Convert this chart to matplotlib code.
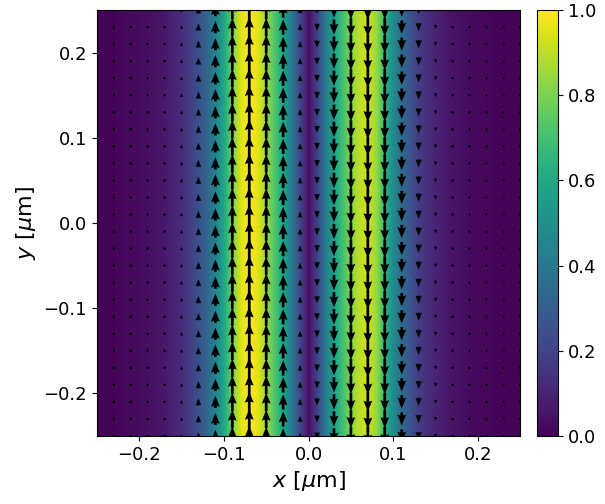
import numpy as np
import matplotlib
matplotlib.use("Agg")
import matplotlib.pyplot as plt

# intensity profile across x (sampled every 0.01 um)
x_prof = np.round(np.linspace(-0.25, 0.25, 51), 3)
intensity = [0.01,0.01,0.01,0.02,0.02,0.03,0.04,0.05,0.07,0.10,   # -0.25..-0.16
             0.13,0.18,0.25,0.33,0.45,0.60,0.80,0.95,1.00,0.95,   # -0.15..-0.06
             0.85,0.72,0.58,0.40,0.20,0.03,0.20,0.42,0.58,0.70,   # -0.05..0.04
             0.82,0.90,0.93,0.84,0.66,0.47,0.35,0.25,0.18,0.13,   # 0.05..0.14
             0.10,0.07,0.05,0.04,0.03,0.02,0.02,0.01,0.01,0.01,0.01]  # 0.15..0.25

# arrow grid and vertical component per column
x_arrow = np.round(np.linspace(-0.25, 0.25, 26), 3)
y_arrow = np.round(np.linspace(-0.25, 0.25, 26), 3)
vy_col = [0.02,0.03,0.04,0.06,0.10,0.18,0.35,0.60,0.90,1.00,0.90,0.75,0.30,
          -0.35,-0.75,-0.90,-0.95,-0.90,-0.65,-0.40,-0.20,-0.10,-0.06,-0.04,-0.03,-0.02]

fig = plt.figure(figsize=(6.05, 5.04), dpi=100)
ax = fig.add_axes([0.16, 0.135, 0.70, 0.845])
cax = fig.add_axes([0.888, 0.135, 0.035, 0.845])

xf = np.linspace(-0.25, 0.25, 501)
prof = np.interp(xf, x_prof, intensity)
img = np.tile(prof, (10, 1))
im = ax.imshow(img, extent=[-0.25, 0.25, -0.25, 0.25], origin='lower',
               aspect='auto', cmap='viridis', vmin=0, vmax=1, interpolation='bilinear')
X, Y = np.meshgrid(x_arrow, y_arrow)
V = np.tile(vy_col, (len(y_arrow), 1))
U = np.zeros_like(V)
ax.quiver(X, Y, U, V, angles='xy', scale_units='xy', scale=1/0.024,
          width=0.0065, headwidth=3.2, headlength=4, headaxislength=3.6, color='black',
          pivot='middle')
ax.set_xlim(-0.25, 0.25)
ax.set_ylim(-0.25, 0.25)
ax.set_xticks([-0.2, -0.1, 0.0, 0.1, 0.2])
ax.set_yticks([-0.2, -0.1, 0.0, 0.1, 0.2])
ax.tick_params(labelsize=13)
ax.set_xlabel(r'$x$ [$\mu$m]', fontsize=16)
ax.set_ylabel(r'$y$ [$\mu$m]', fontsize=16)
cb = fig.colorbar(im, cax=cax)
cb.ax.tick_params(labelsize=13)
fig.savefig("out.png", dpi=100)
